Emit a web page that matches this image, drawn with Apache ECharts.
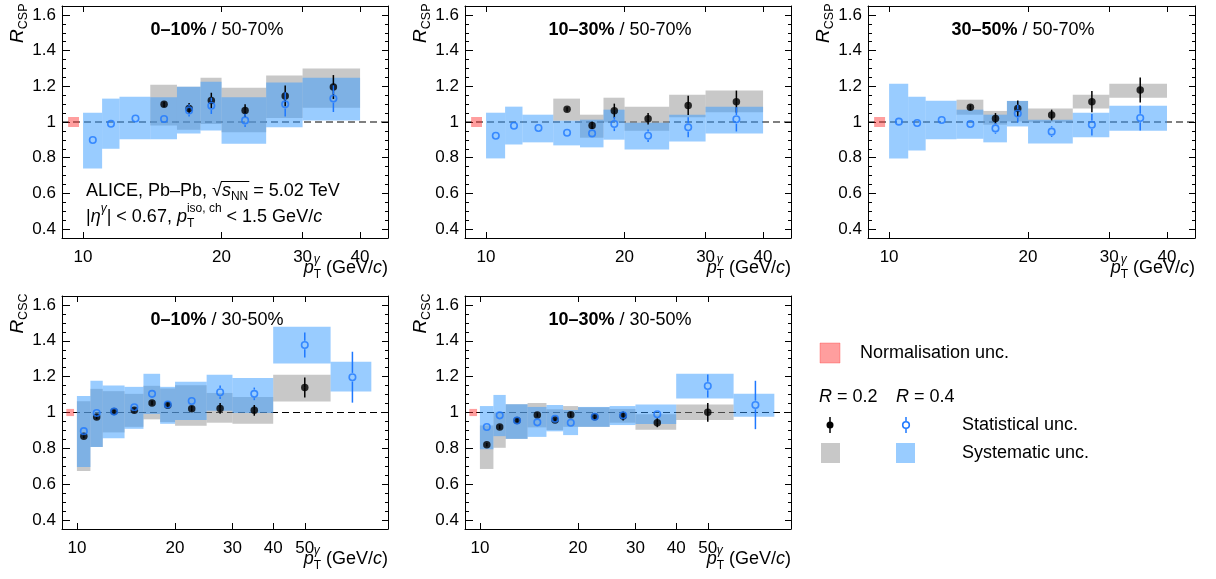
<!DOCTYPE html>
<html>
<head>
<meta charset="utf-8">
<script src="https://cdn.jsdelivr.net/npm/echarts@6/dist/echarts.min.js"></script>
<style>
  html, body { margin: 0; padding: 0; background: #fff; }
  #chart { width: 1216px; height: 579px; }
</style>
</head>
<body>
<div id="chart"></div>
<script>
// pT bins (GeV/c)
const binLo = [10, 11, 12, 14, 16, 18, 20, 25, 30, 40, 60]
const binHi = [11, 12, 14, 16, 18, 20, 25, 30, 40, 60, 80]
const binCenter = [10.5, 11.5, 13, 15, 17, 19, 22.5, 27.5, 35, 50, 70]

const xTicksCSP = [10, 20, 30, 40]
const xTicksCSC = [10, 20, 30, 40, 50]
const yMajor = [0.4, 0.6, 0.8, 1.0, 1.2, 1.4, 1.6]
const yMinor = [0.35, 0.4, 0.45, 0.5, 0.55, 0.6, 0.65, 0.7, 0.75, 0.8, 0.85, 0.9, 0.95, 1.0,
  1.05, 1.1, 1.15, 1.2, 1.25, 1.3, 1.35, 1.4, 1.45, 1.5, 1.55, 1.6, 1.65]

// normalisation box
const normLo = 9.28
const normHi = 9.8
const cspNormHalf = 0.028
const cscNormHalf = 0.02

// R_CSP 0-10% / 50-70%
const csp0010_r04_val = [0.899, 0.990, 1.020, 1.017, 1.065, 1.091, 1.009, 1.099, 1.131]
const csp0010_r04_stat = [0.012, 0.010, 0.010, 0.012, 0.034, 0.046, 0.037, 0.068, 0.075]
const csp0010_r04_lo = [0.740, 0.850, 0.903, 0.903, 0.936, 0.953, 0.878, 0.970, 1.009]
const csp0010_r04_hi = [1.052, 1.131, 1.142, 1.138, 1.198, 1.226, 1.138, 1.222, 1.248]
const csp0010_r02_val = [null, null, null, 1.099, 1.076, 1.121, 1.065, 1.146, 1.196]
const csp0010_r02_stat = [null, null, null, 0.015, 0.030, 0.043, 0.035, 0.058, 0.067]
const csp0010_r02_lo = [null, null, null, 0.981, 0.957, 0.989, 0.942, 1.022, 1.080]
const csp0010_r02_hi = [null, null, null, 1.209, 1.198, 1.248, 1.192, 1.260, 1.300]

// R_CSP 10-30% / 50-70%
const csp1030_r04_val = [0.923, 0.979, 0.966, 0.940, 0.936, 0.989, 0.923, 0.970, 1.015]
const csp1030_r04_stat = [0.012, 0.010, 0.010, 0.012, 0.020, 0.040, 0.035, 0.056, 0.068]
const csp1030_r04_lo = [0.796, 0.874, 0.886, 0.869, 0.858, 0.901, 0.846, 0.891, 0.936]
const csp1030_r04_hi = [1.052, 1.086, 1.041, 1.007, 1.013, 1.069, 0.996, 1.041, 1.086]
const csp1030_r02_val = [null, null, null, 1.071, 0.981, 1.063, 1.018, 1.093, 1.114]
const csp1030_r02_stat = [null, null, null, 0.012, 0.020, 0.040, 0.032, 0.054, 0.062]
const csp1030_r02_lo = [null, null, null, 1.007, 0.912, 0.998, 0.951, 1.026, 1.054]
const csp1030_r02_hi = [null, null, null, 1.131, 1.041, 1.136, 1.086, 1.153, 1.176]

// R_CSP 30-50% / 50-70%
const csp3050_r04_val = [1.002, 0.994, 1.011, 0.989, 0.964, 1.047, 0.946, 0.985, 1.022]
const csp3050_r04_stat = [0.010, 0.010, 0.010, 0.012, 0.030, 0.050, 0.030, 0.060, 0.070]
const csp3050_r04_lo = [0.796, 0.841, 0.903, 0.906, 0.886, 0.975, 0.880, 0.914, 0.951]
const csp3050_r04_hi = [1.215, 1.142, 1.119, 1.069, 1.041, 1.118, 1.013, 1.052, 1.091]
const csp3050_r02_val = [null, null, null, 1.082, 1.020, 1.075, 1.039, 1.114, 1.179]
const csp3050_r02_stat = [null, null, null, 0.015, 0.030, 0.045, 0.030, 0.060, 0.070]
const csp3050_r02_lo = [null, null, null, 1.041, 0.985, 1.003, 0.998, 1.075, 1.136]
const csp3050_r02_hi = [null, null, null, 1.125, 1.062, 1.118, 1.075, 1.153, 1.215]

// R_CSC 0-10% / 30-50%
const csc0010_r04_val = [0.896, 0.997, 1.005, 1.029, 1.104, 1.045, 1.064, 1.113, 1.104, 1.377, 1.197]
const csc0010_r04_stat = [0.012, 0.012, 0.010, 0.012, 0.015, 0.015, 0.020, 0.037, 0.035, 0.070, 0.142]
const csc0010_r04_lo = [0.696, 0.808, 0.857, 0.909, 0.992, 0.937, 0.958, 1.010, 0.997, 1.274, 1.117]
const csc0010_r04_hi = [1.092, 1.177, 1.150, 1.143, 1.216, 1.143, 1.171, 1.210, 1.193, 1.479, 1.283]
const csc0010_r02_val = [0.867, 0.975, 1.005, 1.012, 1.053, 1.040, 1.021, 1.023, 1.012, 1.139, null]
const csc0010_r02_stat = [0.010, 0.012, 0.010, 0.010, 0.012, 0.015, 0.015, 0.030, 0.030, 0.056, null]
const csc0010_r02_lo = [0.674, 0.808, 0.889, 0.920, 0.962, 0.947, 0.926, 0.943, 0.937, 1.061, null]
const csc0010_r02_hi = [1.063, 1.132, 1.119, 1.104, 1.149, 1.134, 1.152, 1.109, 1.087, 1.210, null]

// R_CSC 10-30% / 30-50%
const csc1030_r04_val = [0.919, 0.984, 0.955, 0.945, 0.965, 0.943, 0.976, 0.985, 0.990, 1.148, 1.042]
const csc1030_r04_stat = [0.012, 0.015, 0.010, 0.010, 0.012, 0.012, 0.012, 0.020, 0.020, 0.064, 0.135]
const csc1030_r04_lo = [0.795, 0.868, 0.853, 0.864, 0.895, 0.874, 0.920, 0.930, 0.936, 1.078, 0.976]
const csc1030_r04_hi = [1.036, 1.098, 1.046, 1.031, 1.042, 1.014, 1.031, 1.036, 1.044, 1.216, 1.104]
const csc1030_r02_val = [0.820, 0.919, 0.956, 0.986, 0.958, 0.988, 0.976, 0.980, 0.943, 1.001, null]
const csc1030_r02_stat = [0.010, 0.012, 0.010, 0.010, 0.010, 0.015, 0.012, 0.025, 0.025, 0.052, null]
const csc1030_r02_lo = [0.685, 0.803, 0.853, 0.917, 0.902, 0.920, 0.920, 0.943, 0.904, 0.958, null]
const csc1030_r02_hi = [0.928, 1.000, 1.046, 1.053, 1.018, 1.036, 1.029, 1.020, 0.990, 1.044, null]

const FONT = '"Liberation Sans", Arial, Helvetica, sans-serif'
const BLUE = '#1e78ff'
const GRAY_FILL = 'rgba(145, 145, 145, 0.5)'
const BLUE_FILL = 'rgba(51, 153, 255, 0.5)'
const RED_FILL = 'rgba(255, 40, 40, 0.45)'

const panels = [
  { left: 62, top: 6, w: 326, h: 232, xMax: 46, ticks: xTicksCSP, ratio: 'CSP', cent: '0–10%', ref: ' / 50-70%', norm: cspNormHalf,
    r04: [csp0010_r04_val, csp0010_r04_stat, csp0010_r04_lo, csp0010_r04_hi],
    r02: [csp0010_r02_val, csp0010_r02_stat, csp0010_r02_lo, csp0010_r02_hi] },
  { left: 465, top: 6, w: 326, h: 232, xMax: 46, ticks: xTicksCSP, ratio: 'CSP', cent: '10–30%', ref: ' / 50-70%', norm: cspNormHalf,
    r04: [csp1030_r04_val, csp1030_r04_stat, csp1030_r04_lo, csp1030_r04_hi],
    r02: [csp1030_r02_val, csp1030_r02_stat, csp1030_r02_lo, csp1030_r02_hi] },
  { left: 868, top: 6, w: 327, h: 232, xMax: 46, ticks: xTicksCSP, ratio: 'CSP', cent: '30–50%', ref: ' / 50-70%', norm: cspNormHalf,
    r04: [csp3050_r04_val, csp3050_r04_stat, csp3050_r04_lo, csp3050_r04_hi],
    r02: [csp3050_r02_val, csp3050_r02_stat, csp3050_r02_lo, csp3050_r02_hi] },
  { left: 62, top: 296, w: 326, h: 233, xMax: 90, ticks: xTicksCSC, ratio: 'CSC', cent: '0–10%', ref: ' / 30-50%', norm: cscNormHalf,
    r04: [csc0010_r04_val, csc0010_r04_stat, csc0010_r04_lo, csc0010_r04_hi],
    r02: [csc0010_r02_val, csc0010_r02_stat, csc0010_r02_lo, csc0010_r02_hi] },
  { left: 465, top: 296, w: 326, h: 233, xMax: 90, ticks: xTicksCSC, ratio: 'CSC', cent: '10–30%', ref: ' / 30-50%', norm: cscNormHalf,
    r04: [csc1030_r04_val, csc1030_r04_stat, csc1030_r04_lo, csc1030_r04_hi],
    r02: [csc1030_r02_val, csc1030_r02_stat, csc1030_r02_lo, csc1030_r02_hi] }
]

// --- text helpers (runs of plain / italic / sub / sup text) ---
const mctx = document.createElement('canvas').getContext('2d')
const fontStr = r => (r.italic ? 'italic ' : '') + (r.bold ? 'bold ' : '') + (r.size || 18) + 'px ' + FONT
const measure = r => { mctx.font = fontStr(r); return mctx.measureText(r.t).width }

function textRuns(x, y, list, align) {
  const ws = list.map(measure)
  const pos = []
  let cx = 0
  let keepW = null
  list.forEach((r, i) => {
    pos.push(cx)
    if (r.keep) { keepW = ws[i]; return }
    let w = ws[i]
    if (keepW !== null) { w = Math.max(w, keepW); keepW = null }
    cx += w
  })
  const x0 = align === 'center' ? x - cx / 2 : align === 'right' ? x - cx : x
  const els = list.map((r, i) => ({
    type: 'text', x: x0 + pos[i], y: y + (r.dy || 0), silent: true,
    style: { text: r.t, font: fontStr(r), fill: r.color || '#000', textAlign: 'left', textVerticalAlign: 'middle' }
  }))
  return { els, pos: pos.map(p => p + x0), ws }
}

const lg = Math.log10
const grids = []
const xAxes = []
const yAxes = []
const series = []
const graphics = []

const tickLine = { color: '#000', width: 1 }
const yLabelFmt = v => String(+v.toFixed(2))

panels.forEach((p, gi) => {
  grids.push({ left: p.left, top: p.top, width: p.w, height: p.h })
  const xmin = lg(9)
  const xmax = lg(p.xMax)
  const xt = p.ticks.map(lg)
  const baseX = {
    gridIndex: gi, type: 'value', min: xmin, max: xmax, splitLine: { show: false },
    axisLine: { show: true, onZero: false, lineStyle: tickLine }
  }
  xAxes.push(Object.assign({}, baseX, {
    position: 'bottom',
    axisTick: { inside: true, length: 6, customValues: xt, lineStyle: tickLine },
    axisLabel: { customValues: xt, formatter: v => String(Math.round(Math.pow(10, v))), color: '#000', fontSize: 17, fontFamily: FONT, margin: 11 }
  }))
  xAxes.push(Object.assign({}, baseX, {
    position: 'top',
    axisTick: { inside: true, length: 6, customValues: xt, lineStyle: tickLine },
    axisLabel: { show: false }
  }))
  const baseY = { gridIndex: gi, type: 'value', min: 0.35, max: 1.65, splitLine: { show: false } }
  yAxes.push(Object.assign({}, baseY, {
    position: 'left',
    axisLine: { show: true, onZero: false, lineStyle: tickLine },
    axisTick: { inside: true, length: 8, customValues: yMajor, lineStyle: tickLine },
    axisLabel: { customValues: yMajor, formatter: yLabelFmt, color: '#000', fontSize: 17, fontFamily: FONT, margin: 6 }
  }))
  yAxes.push(Object.assign({}, baseY, {
    position: 'left', axisLine: { show: false },
    axisTick: { inside: true, length: 4, customValues: yMinor, lineStyle: tickLine },
    axisLabel: { show: false }
  }))
  yAxes.push(Object.assign({}, baseY, {
    position: 'right',
    axisLine: { show: true, onZero: false, lineStyle: tickLine },
    axisTick: { inside: true, length: 6, customValues: yMajor, lineStyle: tickLine },
    axisLabel: { show: false }
  }))
  yAxes.push(Object.assign({}, baseY, {
    position: 'right', axisLine: { show: false },
    axisTick: { inside: true, length: 3, customValues: yMinor, lineStyle: tickLine },
    axisLabel: { show: false }
  }))

  const xi = 2 * gi
  const yi = 4 * gi
  const boxRender = fill => (params, api) => {
    const a = api.coord([api.value(0), api.value(3)])
    const b = api.coord([api.value(1), api.value(2)])
    return { type: 'rect', shape: { x: a[0], y: a[1], width: b[0] - a[0], height: b[1] - a[1] }, style: { fill } }
  }
  const statRender = (color, gap) => (params, api) => {
    const c = api.coord([api.value(0), api.value(1)])
    const t = api.coord([api.value(0), api.value(1) + api.value(2)])
    const b = api.coord([api.value(0), api.value(1) - api.value(2)])
    const kids = []
    if (c[1] - t[1] > gap) kids.push({ type: 'line', shape: { x1: c[0], y1: t[1], x2: c[0], y2: c[1] - gap }, style: { stroke: color, lineWidth: 1.5 } })
    if (b[1] - c[1] > gap) kids.push({ type: 'line', shape: { x1: c[0], y1: c[1] + gap, x2: c[0], y2: b[1] }, style: { stroke: color, lineWidth: 1.5 } })
    return { type: 'group', children: kids }
  }
  const build = arr => {
    const pts = [], stat = [], box = []
    arr[0].forEach((v, i) => {
      if (v == null) return
      pts.push([lg(binCenter[i]), v])
      stat.push([lg(binCenter[i]), v, arr[1][i]])
      box.push([lg(binLo[i]), lg(binHi[i]), arr[2][i], arr[3][i]])
    })
    return { pts, stat, box }
  }
  const d02 = build(p.r02)
  const d04 = build(p.r04)
  const common = { xAxisIndex: xi, yAxisIndex: yi, silent: true, animation: false }

  series.push(Object.assign({}, common, {
    type: 'line', z: 1, showSymbol: false, symbol: 'none',
    data: [[xmin, 1], [xmax, 1]],
    lineStyle: { color: '#000', width: 1.2, type: [7, 4] }
  }))
  series.push(Object.assign({}, common, {
    type: 'custom', z: 2, renderItem: boxRender(RED_FILL),
    data: [[lg(normLo), lg(normHi), 1 - p.norm, 1 + p.norm]]
  }))
  series.push(Object.assign({}, common, { type: 'custom', z: 3, renderItem: boxRender(GRAY_FILL), data: d02.box }))
  series.push(Object.assign({}, common, { type: 'custom', z: 4, renderItem: boxRender(BLUE_FILL), data: d04.box }))
  series.push(Object.assign({}, common, { type: 'custom', z: 5, renderItem: statRender('#000', 0), data: d02.stat }))
  series.push(Object.assign({}, common, {
    type: 'scatter', z: 6, symbol: 'circle', symbolSize: 7.5, data: d02.pts,
    itemStyle: { color: '#000' }
  }))
  series.push(Object.assign({}, common, { type: 'custom', z: 7, renderItem: statRender(BLUE, 4.3), data: d04.stat }))
  series.push(Object.assign({}, common, {
    type: 'scatter', z: 8, symbol: 'circle', symbolSize: 6.5, data: d04.pts,
    itemStyle: { color: 'rgba(0,0,0,0)', borderColor: BLUE, borderWidth: 1.6 }
  }))

  // panel title
  graphics.push(...textRuns(p.left + 155, p.top + 24, [{ t: p.cent, bold: true }, { t: p.ref }], 'center').els)
  // y-axis title (rotated)
  graphics.push({
    type: 'group', x: p.left - 44, y: p.top - 2.5, rotation: Math.PI / 2, silent: true,
    children: textRuns(0, 0, [{ t: 'R', italic: true, size: 19 }, { t: p.ratio, size: 12.5, dy: 6 }], 'right').els
  })
  // x-axis title
  graphics.push(...textRuns(p.left + p.w, p.top + p.h + 30, [
    { t: 'p', italic: true }, { t: 'γ', italic: true, size: 12, dy: -8, keep: true }, { t: 'T', size: 12, dy: 7 },
    { t: ' (GeV/' }, { t: 'c', italic: true }, { t: ')' }
  ], 'right').els)
})

// ALICE label in first panel
const l1 = textRuns(86, 191, [
  { t: 'ALICE, Pb–Pb, ' }, { t: '√' }, { t: 's', italic: true }, { t: 'NN', size: 12, dy: 6 }, { t: ' = 5.02 TeV' }
], 'left')
graphics.push(...l1.els)
graphics.push({
  type: 'line', silent: true,
  shape: { x1: l1.pos[1] + l1.ws[1] - 1, y1: 181.5, x2: l1.pos[3] + l1.ws[3] + 1, y2: 181.5 },
  style: { stroke: '#000', lineWidth: 1 }
})
graphics.push(...textRuns(86, 217, [
  { t: '|' }, { t: 'η', italic: true }, { t: 'γ', italic: true, size: 12, dy: -8 }, { t: '| < 0.67, ' },
  { t: 'p', italic: true }, { t: 'iso, ch', size: 12, dy: -8, keep: true }, { t: 'T', size: 12, dy: 7 },
  { t: ' < 1.5 GeV/' }, { t: 'c', italic: true }
], 'left').els)

// legend
graphics.push({ type: 'rect', shape: { x: 820, y: 343, width: 20, height: 20 }, style: { fill: RED_FILL, stroke: 'rgba(255,60,60,0.35)', lineWidth: 1 }, silent: true })
graphics.push(...textRuns(860, 353, [{ t: 'Normalisation unc.' }], 'left').els)
graphics.push(...textRuns(819, 397, [{ t: 'R', italic: true }, { t: ' = 0.2' }], 'left').els)
graphics.push(...textRuns(896, 397, [{ t: 'R', italic: true }, { t: ' = 0.4' }], 'left').els)
graphics.push({ type: 'line', shape: { x1: 830, y1: 417, x2: 830, y2: 433 }, style: { stroke: '#000', lineWidth: 1.5 }, silent: true })
graphics.push({ type: 'circle', shape: { cx: 830, cy: 425, r: 3.5 }, style: { fill: '#000' }, silent: true })
graphics.push({ type: 'line', shape: { x1: 906, y1: 417, x2: 906, y2: 421 }, style: { stroke: BLUE, lineWidth: 1.5 }, silent: true })
graphics.push({ type: 'line', shape: { x1: 906, y1: 429, x2: 906, y2: 433 }, style: { stroke: BLUE, lineWidth: 1.5 }, silent: true })
graphics.push({ type: 'circle', shape: { cx: 906, cy: 425, r: 3.3 }, style: { fill: 'none', stroke: BLUE, lineWidth: 1.6 }, silent: true })
graphics.push(...textRuns(962, 425, [{ t: 'Statistical unc.' }], 'left').els)
graphics.push({ type: 'rect', shape: { x: 821, y: 443, width: 19, height: 20 }, style: { fill: GRAY_FILL }, silent: true })
graphics.push({ type: 'rect', shape: { x: 896, y: 443, width: 19, height: 20 }, style: { fill: BLUE_FILL }, silent: true })
graphics.push(...textRuns(962, 453, [{ t: 'Systematic unc.' }], 'left').els)

const chart = echarts.init(document.getElementById('chart'), null, { renderer: 'canvas' })
chart.setOption({
  animation: false,
  backgroundColor: '#fff',
  textStyle: { fontFamily: FONT },
  grid: grids,
  xAxis: xAxes,
  yAxis: yAxes,
  series,
  graphic: { elements: graphics }
})
</script>
</body>
</html>
